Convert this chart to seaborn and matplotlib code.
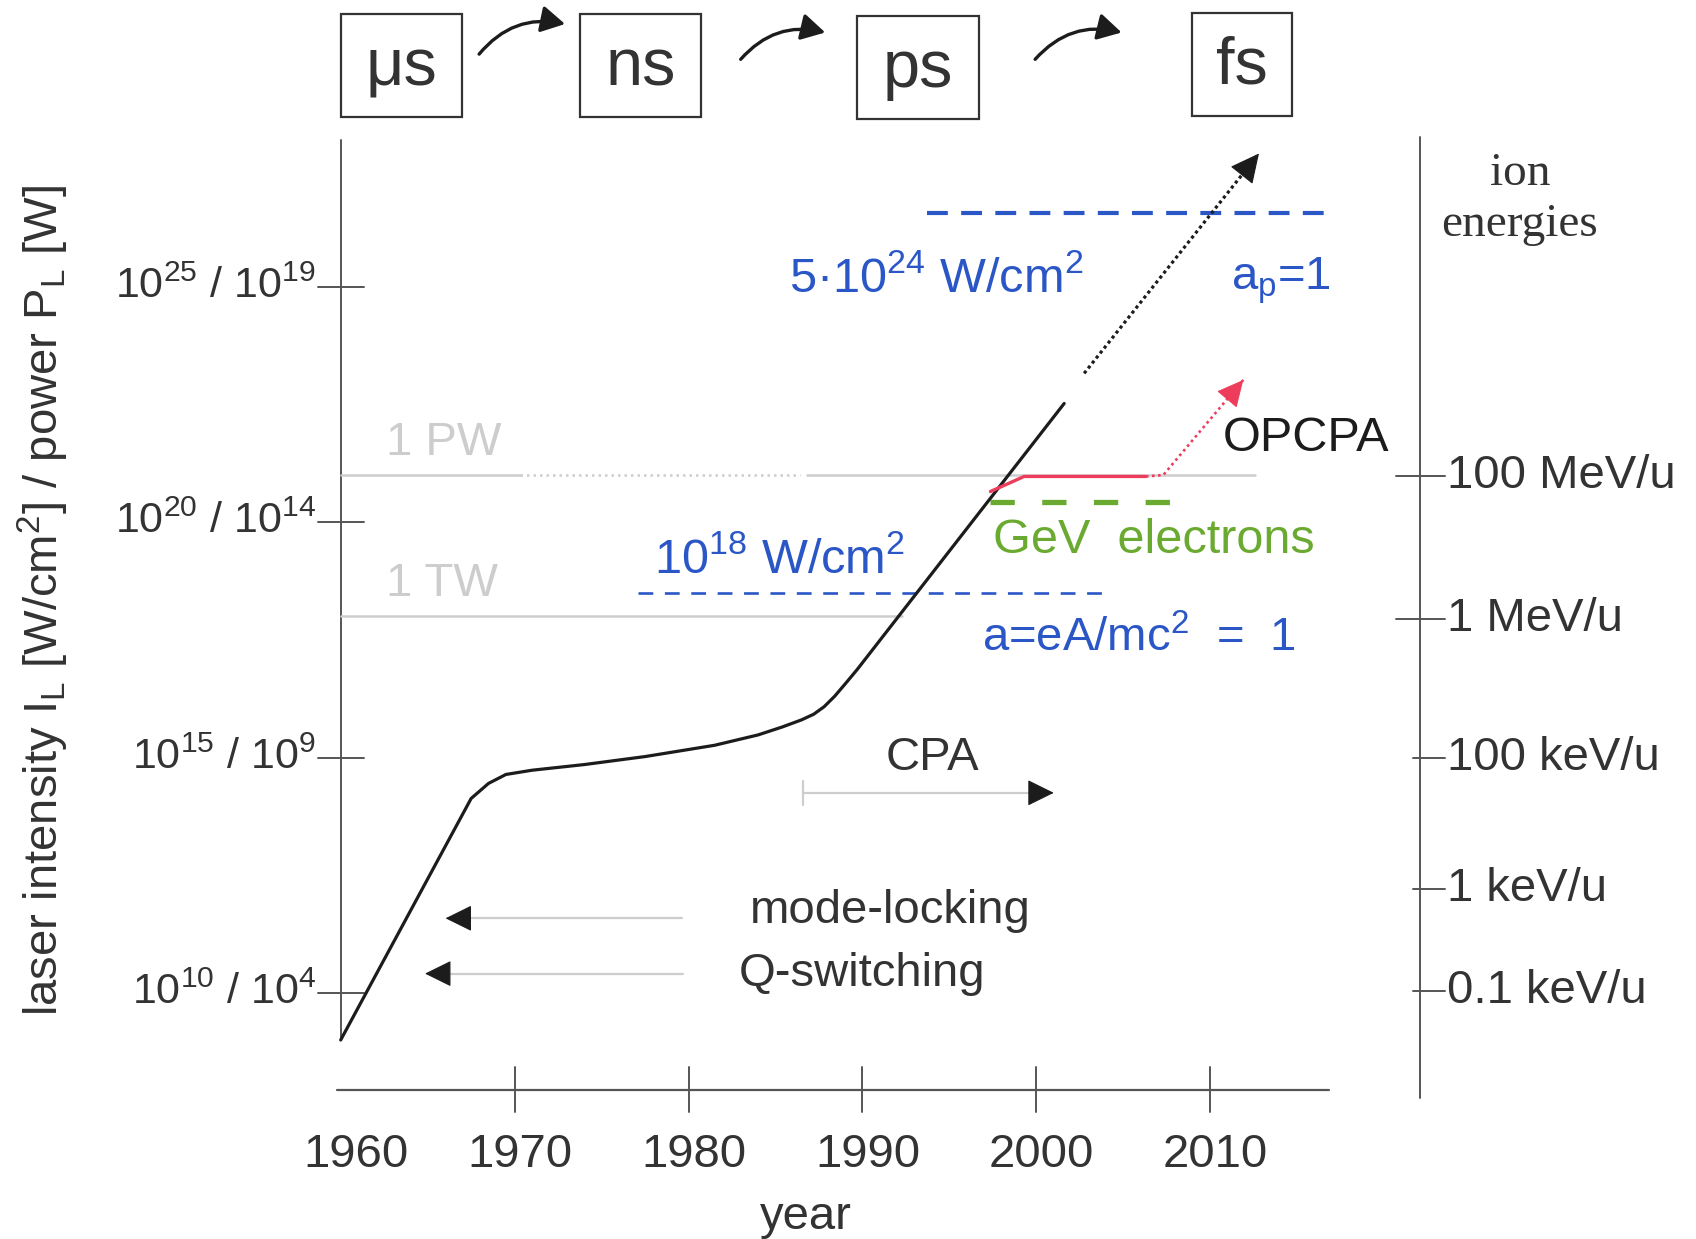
import numpy as np
import matplotlib
matplotlib.use("Agg")
import matplotlib.pyplot as plt
import seaborn as sns
from matplotlib.patches import Rectangle, FancyArrowPatch

# ---- data -------------------------------------------------------------
# peak laser intensity over the years (log10 of W/cm^2)
years = [1960, 1967.5, 1968.5, 1969.5, 1971.0, 1974.0, 1977.5, 1981.5,
         1984.0, 1985.4, 1986.5, 1987.2, 1987.8, 1988.4, 1989.0, 1989.7, 2001.6]
log_intensity = [9.0, 14.13, 14.45, 14.64, 14.73, 14.85, 15.02, 15.26,
                 15.48, 15.65, 15.8, 15.92, 16.08, 16.3, 16.56, 16.87, 22.52]

# extrapolated trend
trend_years = [2002.75, 2012.8]
trend_log_intensity = [23.16, 27.83]

# OPCPA branch
opcpa_years = [1997.36, 1999.3, 2006.3]
opcpa_log_intensity = [20.65, 20.97, 20.97]
opcpa_trend_years = [2006.3, 2007.3, 2011.9]
opcpa_trend_log_intensity = [20.97, 21.0, 23.02]

# reference levels
pw_level = 21.0
tw_level = 18.0
a1_level = 18.5
ap1_level = 26.56
gev_level = 20.43

year_ticks = [1960, 1970, 1980, 1990, 2000, 2010]
intensity_ticks = [10, 15, 20, 25]
intensity_labels = [r"$10^{10}$ / $10^{4}$", r"$10^{15}$ / $10^{9}$",
                    r"$10^{20}$ / $10^{14}$", r"$10^{25}$ / $10^{19}$"]
energy_ticks = [20.97, 17.95, 15.0, 12.2, 10.05]
energy_labels = ["100 MeV/u", "1 MeV/u", "100 keV/u", "1 keV/u", "0.1 keV/u"]
pulse_labels = ["\u03bcs", "ns", "ps", "fs"]

# ---- style ------------------------------------------------------------
sns.set_theme(style="white")
plt.rcParams["font.family"] = ["Liberation Sans", "DejaVu Sans"]
plt.rcParams["mathtext.fontset"] = "custom"
plt.rcParams["mathtext.rm"] = "Liberation Sans"
plt.rcParams["mathtext.it"] = "Liberation Sans:italic"
plt.rcParams["mathtext.bf"] = "Liberation Sans:bold"
plt.rcParams["mathtext.default"] = "regular"

AXIS = "#555555"
TEXT = "#333333"
INK = "#1c1c1c"
GREY = "#cdcdcd"
BLUE = "#2a56c6"
GREEN = "#6aaa30"
RED = "#ee3d5c"
FS = 34

fig = plt.figure(figsize=(16.96, 12.39), dpi=100)
ax = fig.add_axes([0, 0, 1, 1])
ax.set_xlim(1940.41, 2037.93)
ax.set_ylim(4.773, 31.09)
ax.axis("off")


def arrow_head(tail, tip, color, size=20):
    p_tip = ax.transData.transform(tip)
    p_tail = ax.transData.transform(tail)
    d = p_tip - p_tail
    d = d / np.hypot(*d)
    length = 0.85 * size * fig.dpi / 72.0
    base = ax.transData.inverted().transform(p_tip - d * length)
    ax.annotate("", xy=tip, xytext=base,
                arrowprops=dict(arrowstyle="-|>,head_length=0.85,head_width=0.42",
                                mutation_scale=size, color=color, lw=0.8,
                                shrinkA=0, shrinkB=0))


# ---- axes drawn by hand -------------------------------------------------
x_axis_level = 7.93
ax.plot([1959.8, 2016.8], [x_axis_level, x_axis_level], color=AXIS, lw=1.6)
for yr in year_ticks:
    if yr > year_ticks[0]:
        ax.plot([yr, yr], [x_axis_level - 0.45, x_axis_level + 0.5], color=AXIS, lw=1.4)
    shift = 0.9 if yr == year_ticks[0] else 0.3
    ax.text(yr + shift, 6.55, str(yr), ha="center", va="center", fontsize=FS, color=TEXT)
ax.text(1986.74, 5.24, "year", ha="center", va="center", fontsize=FS, color=TEXT)

ax.plot([1960, 1960], [9.0, 28.12], color=AXIS, lw=1.4)
for v, lab in zip(intensity_ticks, intensity_labels):
    ax.plot([1958.68, 1961.32], [v, v], color=AXIS, lw=1.4)
    ax.text(1958.6, v, lab, ha="right", va="center", fontsize=31, color=TEXT)
ax.text(1942.9, 18.34,
        r"laser intensity I$_\mathregular{L}$ [W/cm$^\mathregular{2}$] / power P$_\mathregular{L}$ [W]",
        rotation=90, ha="center", va="center", fontsize=FS, color=TEXT)

right_x = 2022.07
ax.plot([right_x, right_x], [7.77, 28.19], color=AXIS, lw=1.4)
for i, (v, lab) in enumerate(zip(energy_ticks, energy_labels)):
    left = 1.4 if i < 2 else 0.4
    ax.plot([right_x - left, right_x + 1.4], [v, v], color=AXIS, lw=1.4)
    ax.text(right_x + 1.55, v, lab, ha="left", va="center", fontsize=FS, color=TEXT)
ax.text(2027.8, 27.41, "ion", ha="center", va="center", fontsize=FS,
        color=TEXT, family="Liberation Serif")
ax.text(2027.8, 26.31, "energies", ha="center", va="center", fontsize=FS,
        color=TEXT, family="Liberation Serif")

# ---- reference levels -----------------------------------------------------
ax.plot([1960, 1970.3], [pw_level, pw_level], color=GREY, lw=1.8)
ax.plot([1970.3, 1986.4], [pw_level, pw_level], color=GREY, lw=1.8, ls=(0, (1, 1.6)))
ax.plot([1986.8, 2012.6], [pw_level, pw_level], color=GREY, lw=1.8)
ax.plot([1960, 1992.3], [tw_level, tw_level], color=GREY, lw=1.8)
ax.text(1962.6, 21.67, "1 PW", ha="left", va="center", fontsize=FS, color=GREY)
ax.text(1962.6, 18.68, "1 TW", ha="left", va="center", fontsize=FS, color=GREY)

ax.plot([1977.1, 2004.2], [a1_level, a1_level], color=BLUE, lw=1.9, dashes=(5.6, 4.4))
ax.plot([1993.7, 2016.8], [ap1_level, ap1_level], color=BLUE, lw=3.0, dashes=(5.0, 3.2))
ax.plot([1997.36, 2008.0], [gev_level, gev_level], color=GREEN, lw=3.8, dashes=(4.6, 5.2))

# ---- intensity curves -------------------------------------------------------
sns.lineplot(x=years, y=log_intensity, ax=ax, color=INK, lw=2.3, sort=False)
sns.lineplot(x=trend_years, y=trend_log_intensity, ax=ax, color=INK, lw=2.3,
             sort=False, linestyle=(0, (1, 1.0)))
arrow_head((trend_years[0], trend_log_intensity[0]),
           (trend_years[-1], trend_log_intensity[-1]), INK, size=22)

sns.lineplot(x=opcpa_years, y=opcpa_log_intensity, ax=ax, color=RED, lw=2.4, sort=False)
sns.lineplot(x=opcpa_trend_years, y=opcpa_trend_log_intensity, ax=ax, color=RED,
             lw=1.9, sort=False, linestyle=(0, (1, 1.3)))
arrow_head((opcpa_trend_years[-2], opcpa_trend_log_intensity[-2]),
           (opcpa_trend_years[-1], opcpa_trend_log_intensity[-1]), RED, size=20)

# ---- labels -------------------------------------------------------------
ax.text(1978.0, 19.19, r"10$^{18}$ W/cm$^{2}$", ha="left", va="center",
        fontsize=35, color=BLUE)
ax.text(1985.8, 25.16, "5\u00b710$^{24}$ W/cm$^{2}$", ha="left", va="center",
        fontsize=35, color=BLUE)
ax.text(2011.2, 25.12, r"a$_\mathregular{p}$=1", ha="left", va="center",
        fontsize=FS, color=BLUE)
ax.text(1996.9, 17.53, r"a=eA/mc$^{2}$  =  1", ha="left", va="center",
        fontsize=FS, color=BLUE)
ax.text(1997.5, 19.6, "GeV  electrons", ha="left", va="center", fontsize=35, color=GREEN)
ax.text(2010.7, 21.78, "OPCPA", ha="left", va="center", fontsize=35, color=INK)

# technique arrows
ax.text(1994.0, 15.0, "CPA", ha="center", va="center", fontsize=FS, color=TEXT)
ax.plot([1986.6, 2000.0], [14.25, 14.25], color=GREY, lw=1.6)
ax.plot([1986.6, 1986.6], [14.0, 14.5], color=GREY, lw=1.6)
arrow_head((1986.6, 14.25), (2001.0, 14.25), INK, size=20)

ax.text(1983.5, 11.75, "mode-locking", ha="left", va="center", fontsize=FS, color=TEXT)
ax.plot([1979.6, 1967.0], [11.585, 11.585], color=GREY, lw=1.6)
arrow_head((1979.6, 11.585), (1966.03, 11.585), INK, size=20)

ax.text(1982.9, 10.41, "Q-switching", ha="left", va="center", fontsize=FS, color=TEXT)
ax.plot([1979.7, 1966.0], [10.41, 10.41], color=GREY, lw=1.6)
arrow_head((1979.7, 10.41), (1964.85, 10.41), INK, size=20)

# ---- pulse-duration boxes ---------------------------------------------
box_left = [1960.0, 1973.74, 1989.67, 2008.94]
box_right = [1967.0, 1980.71, 1996.7, 2014.72]
box_bottom = [28.6, 28.6, 28.56, 28.63]
box_top = [30.79, 30.79, 30.74, 30.82]
for lab, x0, x1, y0, y1 in zip(pulse_labels, box_left, box_right, box_bottom, box_top):
    ax.add_patch(Rectangle((x0, y0), x1 - x0, y1 - y0, fill=False,
                           ec="#333333", lw=1.6))
    ax.text((x0 + x1) / 2, (y0 + y1) / 2 - 0.05, lab, ha="center", va="center",
            fontsize=48, color=TEXT)

arrow_starts = [(1967.96, 29.94), (1983.0, 29.83), (1999.93, 29.83)]
arrow_ends = [(1972.9, 30.58), (1987.86, 30.4), (2004.9, 30.4)]
for a, b in zip(arrow_starts, arrow_ends):
    ax.add_patch(FancyArrowPatch(a, b, connectionstyle="arc3,rad=-0.3",
                                 arrowstyle="-|>,head_length=0.8,head_width=0.45",
                                 mutation_scale=18, color=INK, lw=2.4,
                                 shrinkA=0, shrinkB=0))

fig.savefig("out.png", dpi=100)
